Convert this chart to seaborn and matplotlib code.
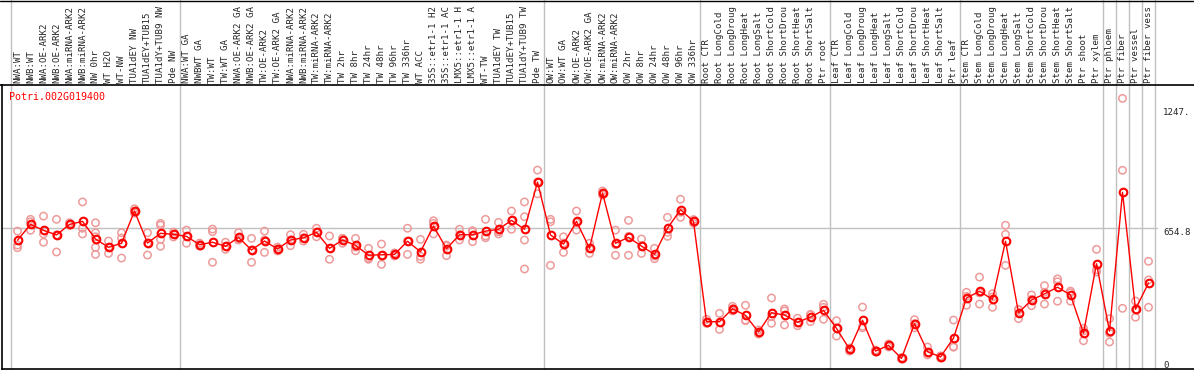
import matplotlib
matplotlib.use("Agg")
import matplotlib.pyplot as plt
import matplotlib.transforms as mtransforms
from matplotlib.lines import Line2D
import pandas as pd
import seaborn as sns

gene_id = "Potri.002G019400"

sample_labels = [
    "NWA:WT", "NWB:WT", "NWA:OE-ARK2", "NWB:OE-ARK2", "NWA:miRNA-ARK2",
    "NWB:miRNA-ARK2", "NW 0hr", "WT H2O", "WT-NW", "TUA1dEY NW",
    "TUA1dEY+TUB15", "TUA1dY+TUB9 NW", "Pde NW",
    "NWA:WT GA", "NWBWT GA", "TW:WT", "TW:WT GA", "NWA:OE-ARK2 GA",
    "NWB:OE-ARK2 GA", "TW:OE-ARK2", "TW:OE-ARK2 GA", "NWA:miRNA-ARK2",
    "NWB:miRNA-ARK2", "TW:miRNA-ARK2", "TW:miRNA-ARK2", "TW 2hr", "TW 8hr",
    "TW 24hr", "TW 48hr", "TW 96hr", "TW 336hr", "WT ACC", "35S::etr1-1 H2",
    "35S::etr1-1 AC", "LMX5::etr1-1 H", "LMX5::etr1-1 A", "WT-TW",
    "TUA1dEY TW", "TUA1dEY+TUB15", "TUA1dY+TUB9 TW", "Pde TW",
    "OW:WT", "OW:WT GA", "OW:OE-ARK2", "OW:OE-ARK2 GA", "OW:miRNA-ARK2",
    "OW:miRNA-ARK2", "OW 2hr", "OW 8hr", "OW 24hr", "OW 48hr", "OW 96hr",
    "OW 336hr",
    "Root CTR", "Root LongCold", "Root LongDroug", "Root LongHeat",
    "Root LongSalt", "Root ShortCold", "Root ShortDrou", "Root ShortHeat",
    "Root ShortSalt", "Ptr root",
    "Leaf CTR", "Leaf LongCold", "Leaf LongDroug", "Leaf LongHeat",
    "Leaf LongSalt", "Leaf ShortCold", "Leaf ShortDrou", "Leaf ShortHeat",
    "Leaf ShortSalt", "Ptr leaf",
    "Stem CTR", "Stem LongCold", "Stem LongDroug", "Stem LongHeat",
    "Stem LongSalt", "Stem ShortCold", "Stem ShortDrou", "Stem ShortHeat",
    "Stem ShortSalt", "Ptr shoot", "Ptr xylem",
    "Ptr phloem", "Ptr fiber", "Ptr vessel", "Ptr fiber vess",
]

mean_values = [
    596, 674, 645, 622, 674, 689, 602, 561, 581, 740, 582, 630, 625,
    615, 574, 586, 566, 610, 548, 592, 553, 597, 608, 635, 556, 597, 571,
    522, 524, 526, 591, 539, 666, 554, 623, 623, 641, 650, 694, 650, 883,
    622, 577, 689, 556, 829, 581, 610, 567, 526, 655, 747, 689,
    194, 194, 258, 225, 143, 238, 227, 191, 217, 250,
    161, 58, 201, 49, 77, 13, 184, 46, 20, 113,
    311, 344, 304, 591, 238, 301, 331, 364, 326, 137, 480,
    147, 832, 255, 385,
]

replicate_values = [
    [641, 572, 559], [699, 687, 645], [715, 627, 586], [699, 538, 622],
    [682, 670, 672], [785, 655, 627], [682, 633, 613, 561, 526],
    [592, 531, 561], [633, 607, 508], [751, 730, 740], [633, 523, 582],
    [679, 670, 600, 566], [625, 636, 612],
    [646, 581, 615], [574, 582, 567], [651, 638, 487], [586, 551, 566],
    [633, 602, 597], [605, 487, 548], [641, 536, 597], [553, 562, 543],
    [623, 569, 597], [625, 592, 608], [655, 613, 636], [617, 502, 556],
    [605, 581, 605], [605, 544, 562], [556, 502, 508], [577, 477, 520],
    [526, 533, 518], [655, 526, 591], [600, 502, 516], [692, 627, 679],
    [572, 520, 567], [650, 597, 623], [638, 589, 643], [699, 608, 617],
    [684, 627, 638], [740, 650, 692], [785, 712, 597, 454], [942, 825, 883],
    [699, 687, 472], [613, 536, 582], [740, 646, 682], [581, 531, 556],
    [829, 839, 819], [646, 522, 574], [694, 522, 615], [602, 531, 569],
    [556, 505, 518], [709, 615, 635], [798, 709, 734], [680, 689, 698],
    [206, 191, 186], [235, 156, 191], [258, 270, 247], [275, 202, 199],
    [143, 153, 133], [311, 186, 219], [257, 178, 247], [211, 174, 187],
    [230, 194, 227], [280, 206, 265],
    [199, 123, 161], [58, 64, 49], [266, 164, 171], [49, 54, 44],
    [77, 84, 69], [13, 17, 10], [204, 184, 164], [69, 30, 39],
    [20, 25, 15], [202, 68, 71],
    [339, 275, 319], [414, 281, 336], [332, 265, 316], [670, 625, 472],
    [252, 209, 255], [326, 273, 304], [372, 281, 339], [405, 295, 391],
    [345, 295, 337], [161, 100, 148], [551, 439, 450],
    [209, 94, 137], [1296, 941, 260], [296, 216, 253], [492, 400, 265],
]

group_breaks = [0, 13, 41, 53, 63, 73, 84, 85, 86, 87, 88]
grid_value = 654.8
y_label_values = [1247, 654.8, 0]
y_label_texts = ["1247.", "654.8", "0"]

sns.set_style("white")
plt.rcParams["font.family"] = ["DejaVu Sans Mono"]

W, H = 1194, 370
fig = plt.figure(figsize=(W / 100, H / 100), dpi=100)
# plot box in pixels: x 2..1194, y 85..369 (from top)
ax = fig.add_axes([2 / W, 1 / H, (W - 2) / W, 284 / H])

positions = list(range(len(sample_labels)))
rep_df = pd.DataFrame(
    [(i, v) for i, reps in enumerate(replicate_values) for v in reps],
    columns=["pos", "value"],
)
mean_df = pd.DataFrame({"pos": positions, "value": mean_values})

# grid / separators
ax.axhline(grid_value, xmin=0, xmax=(1157 - 2) / (W - 2), color="#c0c0c0", lw=1, zorder=0)
for b in group_breaks:
    ax.axvline(b - 0.5, ymin=0, ymax=369 / 284, color="#c0c0c0", lw=1,
               clip_on=False, zorder=0)

sns.scatterplot(data=rep_df, x="pos", y="value", ax=ax, marker="o", s=28,
                facecolors="none", edgecolor="#ee9a9a", linewidth=1.1, zorder=2)
sns.lineplot(data=mean_df, x="pos", y="value", ax=ax, color="red", lw=1,
             marker="o", markersize=5.5, markerfacecolor="none",
             markeredgecolor="red", markeredgewidth=1.5, zorder=3)

ax.set_xlim((2 - 17.5) / 13, (W - 17.5) / 13)
ax.set_ylim(-39.5, 1362)
ax.set_xticks([])
ax.set_yticks([])
ax.set_xlabel("")
ax.set_ylabel("")
for side in ["left", "top", "bottom"]:
    ax.spines[side].set_color("black")
    ax.spines[side].set_linewidth(1.2)
ax.spines["right"].set_visible(False)

# rotated sample labels above the plot box
top_trans = mtransforms.blended_transform_factory(ax.transData, ax.transAxes)
for i, lab in enumerate(sample_labels):
    ax.text(i, 1 + 2 / 284, lab, rotation=90, ha="center", va="bottom",
            fontsize=6.6, transform=top_trans, clip_on=False)

# value labels on the right
right_trans = mtransforms.blended_transform_factory(fig.transFigure, ax.transData)
for v, t in zip(y_label_values, y_label_texts):
    ax.text(1163 / W, v, t, ha="left", va="top", fontsize=6.6,
            transform=right_trans, clip_on=False)

fig.text(9 / W, 1 - 97 / H, gene_id, color="red", fontsize=7.2,
         ha="left", va="center")
fig.add_artist(Line2D([0, 1], [1 - 0.5 / H, 1 - 0.5 / H], color="black", lw=1,
                      transform=fig.transFigure))
fig.add_artist(Line2D([0, 2 / W], [1 - 85 / H, 1 - 85 / H], color="black", lw=1.2,
                      transform=fig.transFigure))

fig.savefig("out.png", dpi=100)
